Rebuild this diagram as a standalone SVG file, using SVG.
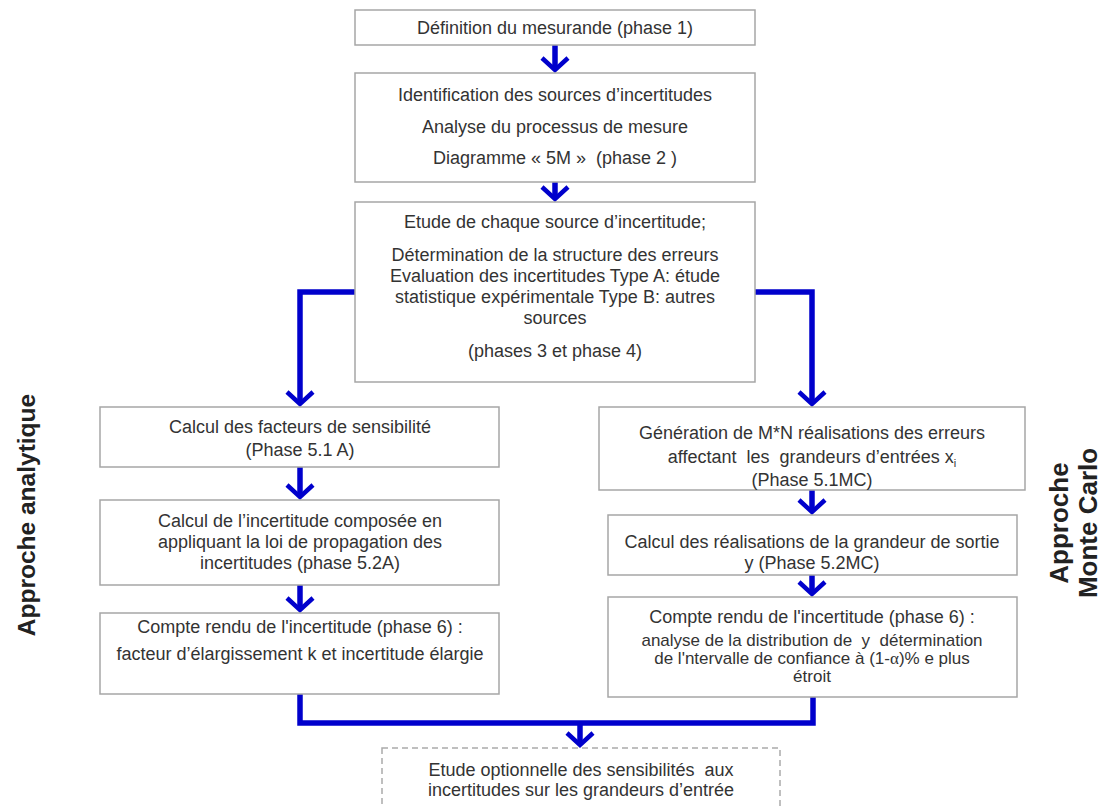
<svg xmlns="http://www.w3.org/2000/svg" xmlns:xlink="http://www.w3.org/1999/xlink" width="1104" height="807" viewBox="0 0 1104 807">
<style>
  .box { fill: #ffffff; stroke: #a6a6a6; stroke-width: 1.5; }
  .dbox { fill: #ffffff; stroke: #aaaaaa; stroke-width: 1.5; stroke-dasharray: 6 4; }
  .t { font-family: "Liberation Sans", Arial, sans-serif; font-size: 18px; fill: #333333; text-anchor: middle; white-space: pre; }
  .ts { font-size: 17px; }
  .lbl { font-family: "Liberation Sans", Arial, sans-serif; font-weight: bold; fill: #222222; text-anchor: middle; }
  .conn { fill: none; stroke: #0000cc; stroke-width: 5.5; stroke-linejoin: miter; }
  .ah { fill: none; stroke: #0000cc; stroke-width: 4.5; stroke-linejoin: miter; }
</style>
<defs>
  <path id="ah" class="ah" d="M-13,-12 L0,0 L13,-12"/>
</defs>
<rect width="1104" height="807" fill="#ffffff"/>

<g id="connectors">
  <line class="conn" x1="555" y1="45" x2="555" y2="67"/>
  <use xlink:href="#ah" href="#ah" x="555" y="70"/>
  <line class="conn" x1="555" y1="182" x2="555" y2="196"/>
  <use xlink:href="#ah" href="#ah" x="555" y="199"/>
  <path class="conn" d="M355,292 H300 V401"/>
  <use xlink:href="#ah" href="#ah" x="300" y="404"/>
  <path class="conn" d="M755,292 H812 V401"/>
  <use xlink:href="#ah" href="#ah" x="812" y="404"/>
  <line class="conn" x1="300" y1="467" x2="300" y2="494"/>
  <use xlink:href="#ah" href="#ah" x="300" y="497"/>
  <line class="conn" x1="300" y1="585" x2="300" y2="607"/>
  <use xlink:href="#ah" href="#ah" x="300" y="610"/>
  <line class="conn" x1="812" y1="490" x2="812" y2="509"/>
  <use xlink:href="#ah" href="#ah" x="812" y="512"/>
  <line class="conn" x1="812" y1="575" x2="812" y2="591"/>
  <use xlink:href="#ah" href="#ah" x="812" y="594"/>
  <path class="conn" d="M300,694 V723 H813 V697"/>
  <line class="conn" x1="580" y1="723" x2="580" y2="742"/>
  <use xlink:href="#ah" href="#ah" x="580" y="745"/>
</g>

<g id="n1">
  <rect class="box" x="355" y="10" width="400" height="35"/>
  <text class="t" x="555" y="34">Définition du mesurande (phase 1)</text>
</g>

<g id="n2">
  <rect class="box" x="355" y="73" width="400" height="109"/>
  <text class="t" x="555" y="101">Identification des sources d’incertitudes</text>
  <text class="t" x="555" y="133">Analyse du processus de mesure</text>
  <text class="t" x="555" y="164">Diagramme « 5M »  (phase 2 )</text>
</g>

<g id="n3">
  <rect class="box" x="355" y="202" width="400" height="180"/>
  <text class="t" x="555" y="228">Etude de chaque source d’incertitude;</text>
  <text class="t" x="555" y="261">Détermination de la structure des erreurs</text>
  <text class="t" x="555" y="282">Evaluation des incertitudes Type A: étude</text>
  <text class="t" x="555" y="303">statistique expérimentale Type B: autres</text>
  <text class="t" x="555" y="324">sources</text>
  <text class="t" x="555" y="357">(phases 3 et phase 4)</text>
</g>

<g id="l1">
  <rect class="box" x="100" y="407" width="399" height="60"/>
  <text class="t" x="300" y="433">Calcul des facteurs de sensibilité</text>
  <text class="t" x="300" y="456">(Phase 5.1 A)</text>
</g>

<g id="l2">
  <rect class="box" x="100" y="500" width="399" height="85"/>
  <text class="t" x="300" y="527">Calcul de l’incertitude composée en</text>
  <text class="t" x="300" y="548">appliquant la loi de propagation des</text>
  <text class="t" x="300" y="569">incertitudes (phase 5.2A)</text>
</g>

<g id="l3">
  <rect class="box" x="100" y="613" width="399" height="81"/>
  <text class="t" x="300" y="633">Compte rendu de l'incertitude (phase 6) :</text>
  <text class="t" x="300" y="660">facteur d’élargissement k et incertitude élargie</text>
</g>

<g id="r1">
  <rect class="box" x="599" y="407" width="426" height="83"/>
  <text class="t" x="812" y="439">Génération de M*N réalisations des erreurs</text>
  <text class="t" x="812" y="463">affectant  les  grandeurs d’entrées x<tspan font-size="11" dy="4">i</tspan></text>
  <text class="t" x="812" y="486">(Phase 5.1MC)</text>
</g>

<g id="r2">
  <rect class="box" x="608" y="515" width="409" height="60"/>
  <text class="t" x="812" y="548">Calcul des réalisations de la grandeur de sortie</text>
  <text class="t" x="812" y="569">y (Phase 5.2MC)</text>
</g>

<g id="r3">
  <rect class="box" x="608" y="597" width="409" height="100"/>
  <text class="t" x="812" y="623">Compte rendu de l'incertitude (phase 6) :</text>
  <text class="t ts" x="812" y="646">analyse de la distribution de  y  détermination</text>
  <text class="t ts" x="812" y="664">de l'ntervalle de confiance à (1-<tspan font-family="Liberation Serif, serif">α</tspan>)% e plus</text>
  <text class="t ts" x="812" y="682">étroit</text>
</g>

<g id="n4">
  <rect class="dbox" x="382" y="748" width="398" height="70"/>
  <text class="t" x="581" y="776">Etude optionnelle des sensibilités  aux</text>
  <text class="t" x="581" y="796">incertitudes sur les grandeurs d’entrée</text>
</g>

<g id="label-left">
  <text class="lbl" font-size="24.5" transform="translate(35,515) rotate(-90)">Approche analytique</text>
</g>

<g id="label-right">
  <text class="lbl" font-size="26" transform="translate(1068,523) rotate(-90)">Approche</text>
  <text class="lbl" font-size="26" transform="translate(1097,523) rotate(-90)">Monte Carlo</text>
</g>
</svg>
